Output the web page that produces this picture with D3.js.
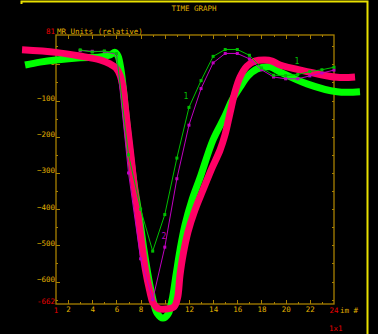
<!DOCTYPE html>
<html>
<head>
<meta charset="utf-8">
<script src="https://cdn.jsdelivr.net/npm/d3@7"></script>
<style>
  body { margin: 0; background: #000; }
  svg { display: block; }
  text { font-family: "DejaVu Sans Mono", monospace; font-size: 7.5px; }
</style>
</head>
<body>
<svg id="chart" width="378" height="334"></svg>
<script>
// image numbers for the thin (sampled) curves
const imgNums = [3, 4, 5, 6, 7, 8, 9, 10, 11, 12, 13, 14, 15, 16, 17, 18, 19, 20, 21, 22, 23, 24];
const curve1 = [40, 34, 37, 30, -250, -400, -516, -415, -259, -119, -45, 22, 41, 41, 25, -10, -30, -31, -28, -20, -15, -8];
const curve2 = [38, 36, 35, 28, -300, -537, -650, -505, -316, -168, -67, 4, 30, 30, 15, -15, -35, -40, -40, -32, -24, -16];

// thick fitted curves (run past the axes)
const fitGreenT = [-1.56, -0.32, 1, 2.99, 4.64, 5.47, 5.88, 6.13, 6.38, 6.63, 6.87, 7.2, 7.54, 7.87, 8.28, 8.69, 9.03, 9.36, 9.85, 10.27, 10.6, 10.93, 11.26, 11.67, 12.25, 12.91, 13.99, 14.98, 15.56, 16.23, 16.89, 17.63, 18.7, 19.53, 21.77, 24.25, 26.15];
const fitGreenV = [-2, 6, 12, 18, 20, 26, 33, 23, -16, -85, -167, -264, -347, -416, -513, -596, -651, -687, -701, -690, -651, -582, -513, -444, -375, -314, -209, -143, -99, -63, -32, -13, -7, -21, -54, -76, -76];
const fitPinkT = [-1.81, 1, 2.99, 4.64, 5.47, 5.96, 6.3, 6.54, 6.71, 6.92, 7.21, 7.48, 7.66, 8.4, 8.78, 9.03, 9.44, 10.1, 10.76, 11.05, 11.26, 11.51, 11.92, 12.5, 13.16, 13.91, 14.57, 14.98, 15.4, 15.81, 16.23, 16.8, 17.46, 18.29, 18.87, 19.53, 21.77, 24.25, 25.74];
const fitPinkV = [40, 33, 23, 12, 1, -10, -30, -63, -112, -173, -256, -339, -383, -568, -629, -659, -674, -676, -670, -646, -582, -527, -463, -402, -347, -286, -237, -195, -134, -76, -35, -5, 9, 12, 9, -2, -20, -36, -35];

const yMajor = [-600, -500, -400, -300, -200, -100, 0];
const yMinor = [-650, -550, -450, -350, -250, -150, -50, 50];
const xMajor = [2, 4, 6, 8, 10, 12, 14, 16, 18, 20, 22];
const xMinor = [3, 5, 7, 9, 11, 13, 15, 17, 19, 21, 23];

const axisCol = "#a88000", labelCol = "#e0b000", red = "#e80000";

const svg = d3.select("#chart");
const x = d3.scaleLinear().domain([1, 24]).range([56, 334]);
const y = d3.scaleLinear().domain([-662, 81]).range([304, 35]);

// frame
svg.append("path")
  .attr("d", "M21.5,4 V1.5 H367.5 V334")
  .attr("fill", "none").attr("stroke", "#e8e000").attr("stroke-width", 2);

svg.append("text").attr("x", 194).attr("y", 11).attr("text-anchor", "middle")
  .attr("fill", labelCol).text("TIME GRAPH");

function styleAxis(g) {
  g.select(".domain").remove();
  g.selectAll("line").attr("stroke", axisCol).attr("shape-rendering", "crispEdges");
  g.selectAll("text").attr("fill", labelCol)
    .style("font-family", "DejaVu Sans Mono").style("font-size", "7.5px");
}

// box
svg.append("rect").attr("x", 56).attr("y", 35).attr("width", 278).attr("height", 269)
  .attr("fill", "none").attr("stroke", axisCol).attr("stroke-width", 1.3);

// bottom axis
svg.append("g").attr("transform", "translate(0,304)")
  .call(d3.axisBottom(x).tickValues(xMinor).tickSize(-2).tickFormat(""))
  .call(styleAxis);
svg.append("g").attr("transform", "translate(0,304)")
  .call(d3.axisBottom(x).tickValues(xMajor).tickSize(-4).tickPadding(3).tickFormat(d3.format("d")))
  .call(styleAxis);
// top axis
svg.append("g").attr("transform", "translate(0,35)")
  .call(d3.axisTop(x).tickValues(xMinor).tickSize(-2).tickFormat(""))
  .call(styleAxis);
svg.append("g").attr("transform", "translate(0,35)")
  .call(d3.axisTop(x).tickValues(xMajor).tickSize(-4).tickFormat(""))
  .call(styleAxis);

// left axis
svg.append("g").attr("transform", "translate(56,0)")
  .call(d3.axisLeft(y).tickValues(yMinor).tickSize(-2).tickFormat(""))
  .call(styleAxis);
svg.append("g").attr("transform", "translate(56,0)")
  .call(d3.axisLeft(y).tickValues(yMajor).tickSize(-4).tickPadding(1).tickFormat(d3.format("d")))
  .call(styleAxis)
  .selectAll("text").attr("dy", "0");
// right axis
svg.append("g").attr("transform", "translate(334,0)")
  .call(d3.axisRight(y).tickValues(yMinor.concat(yMajor)).tickSize(-2).tickFormat(""))
  .call(styleAxis);

// extreme labels
svg.append("text").attr("x", 55).attr("y", y(81) - 1).attr("text-anchor", "end").attr("fill", red).text("81");
svg.append("text").attr("x", 57).attr("y", y(81) - 1).attr("fill", labelCol).text("MR Units (relative)");
svg.append("text").attr("x", 55).attr("y", y(-662)).attr("text-anchor", "end").attr("fill", red).text("-662");
svg.append("text").attr("x", x(1)).attr("y", 313).attr("text-anchor", "middle").attr("fill", red).text("1");
svg.append("text").attr("x", x(24)).attr("y", 313).attr("text-anchor", "middle").attr("fill", red).text("24");
svg.append("text").attr("x", 340).attr("y", 313).attr("fill", labelCol).text("im #");
svg.append("text").attr("x", 329).attr("y", 331).attr("fill", red).text("1x1");

// thick fitted curves
const thick = d3.line().curve(d3.curveCatmullRom.alpha(0.5))
  .x(d => x(d[0])).y(d => y(d[1]));
svg.append("path").datum(d3.zip(fitGreenT, fitGreenV)).attr("d", thick)
  .attr("fill", "none").attr("stroke", "#00ff00").attr("stroke-width", 7);
svg.append("path").datum(d3.zip(fitPinkT, fitPinkV)).attr("d", thick)
  .attr("fill", "none").attr("stroke", "#ff0066").attr("stroke-width", 7);

// thin sampled curves
const thin = d3.line().x(d => x(d[0])).y(d => y(d[1]));
[[curve2, "#c000c0"], [curve1, "#00c000"]].forEach(([vals, col]) => {
  const pts = d3.zip(imgNums, vals);
  svg.append("path").datum(pts).attr("d", thin)
    .attr("fill", "none").attr("stroke", col).attr("stroke-width", 1);
  svg.append("g").selectAll("rect").data(pts).join("rect")
    .attr("x", d => x(d[0]) - 1.5).attr("y", d => y(d[1]) - 1.5)
    .attr("width", 3).attr("height", 3).attr("fill", col);
});

// curve labels
svg.append("text").attr("x", 186).attr("y", 99).attr("text-anchor", "middle").attr("fill", "#00c000").style("font-size", "8px").text("1");
svg.append("text").attr("x", 297).attr("y", 64).attr("text-anchor", "middle").attr("fill", "#00c000").style("font-size", "8px").text("1");
svg.append("text").attr("x", 164).attr("y", 239).attr("text-anchor", "middle").attr("fill", "#c000c0").style("font-size", "8px").text("2");
</script>
</body>
</html>
